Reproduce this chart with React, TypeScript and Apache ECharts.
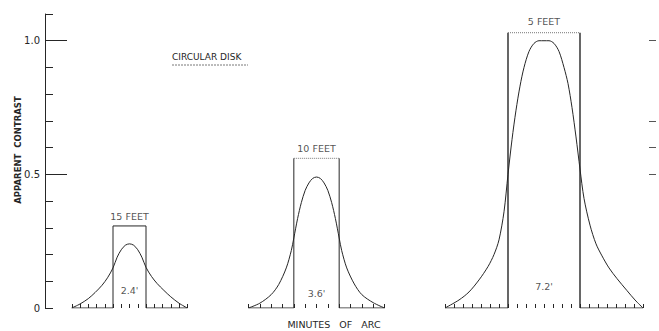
import { useEffect, useRef } from "react";
import * as echarts from "echarts";

// ---------- data ----------
const yTickValues = [0, 0.1, 0.2, 0.3, 0.4, 0.5, 0.6, 0.7, 0.8, 0.9, 1.0, 1.1];
const yLabelValues = [0, 0.5, 1.0];
const yLongTickValues = [0.5, 1.0];
const rightTickValues = [0.5, 0.6, 0.7, 1.0];

const distanceLabels = ["15 FEET", "10 FEET", "5 FEET"];
const diskWidths = [2.4, 3.6, 7.2]; // minutes of arc
const diskWidthLabels = ["2.4'", "3.6'", "7.2'"];
const diskContrast = [0.307, 0.56, 1.03];
const tickIntervals = [0.6, 0.9, 0.9];
const axisHalfRanges = [4.2, 5.4, 9.9];

const curve15ftX = [-4.2, -3.6, -3.0, -2.5, -2.0, -1.6, -1.2, -0.9, -0.6, -0.3, 0, 0.3, 0.6, 0.9, 1.2, 1.6, 2.0, 2.5, 3.0, 3.6, 4.2];
const curve15ftY = [0.0, 0.015, 0.035, 0.058, 0.085, 0.113, 0.15, 0.19, 0.218, 0.235, 0.24, 0.235, 0.218, 0.19, 0.152, 0.118, 0.092, 0.066, 0.042, 0.018, 0.0];

const curve10ftX = [-5.4, -4.5, -3.6, -3.0, -2.4, -2.0, -1.8, -1.5, -1.2, -0.9, -0.6, -0.3, 0, 0.3, 0.6, 0.9, 1.2, 1.5, 1.8, 2.0, 2.4, 3.0, 3.6, 4.5, 5.4];
const curve10ftY = [0.0, 0.018, 0.05, 0.088, 0.15, 0.215, 0.262, 0.335, 0.395, 0.44, 0.468, 0.485, 0.49, 0.485, 0.468, 0.44, 0.395, 0.335, 0.262, 0.215, 0.15, 0.09, 0.05, 0.02, 0.0];

const curve5ftX = [-9.9, -8.5, -7.5, -6.5, -5.6, -5.0, -4.5, -4.0, -3.6, -3.2, -2.8, -2.4, -2.0, -1.5, -1.0, -0.5, 0, 0.5, 1.0, 1.5, 2.0, 2.4, 2.8, 3.2, 3.6, 4.0, 4.6, 5.2, 5.8, 6.5, 7.3, 8.3, 9.1, 9.9];
const curve5ftY = [0.0, 0.03, 0.06, 0.105, 0.155, 0.2, 0.255, 0.36, 0.5, 0.63, 0.74, 0.83, 0.9, 0.96, 0.99, 1.0, 1.0, 1.0, 0.99, 0.96, 0.9, 0.84, 0.75, 0.64, 0.52, 0.41, 0.31, 0.24, 0.195, 0.15, 0.11, 0.065, 0.03, 0.0];

const curvesX = [curve15ftX, curve10ftX, curve5ftX];
const curvesY = [curve15ftY, curve10ftY, curve5ftY];

// ---------- layout ----------
const GRID_TOP = 14;
const GRID_BOTTOM = 23;
const clusterLefts = [71.75, 248.5, 445];
const clusterWidths = [115.5, 136, 198];
const widthLabelYs = [0.067, 0.056, 0.08];
const INK = "#262626";
const FONT = "DejaVu Sans";

export default function App() {
  const ref = useRef<HTMLDivElement>(null);

  useEffect(() => {
    if (!ref.current) return;
    const chart = echarts.init(ref.current, null, { renderer: "svg" });

    const grids: any[] = [
      { left: 45, right: 3, top: GRID_TOP, bottom: GRID_BOTTOM },
      ...clusterLefts.map((l, i) => ({ left: l, width: clusterWidths[i], top: GRID_TOP, bottom: GRID_BOTTOM })),
    ];

    const xAxes: any[] = [
      { type: "value", gridIndex: 0, min: 0, max: 1, show: false },
      ...axisHalfRanges.map((r, i) => ({
        type: "value",
        gridIndex: i + 1,
        min: -r,
        max: r,
        interval: tickIntervals[i],
        axisLine: { show: false },
        axisTick: { show: true, inside: true, length: 4, lineStyle: { color: INK, width: 1 } },
        axisLabel: { show: false },
        splitLine: { show: false },
      })),
    ];

    const yAxes: any[] = [
      {
        type: "value",
        gridIndex: 0,
        position: "left",
        min: 0,
        max: 1.1,
        axisLine: { show: true, lineStyle: { color: INK, width: 1 } },
        axisTick: { show: true, inside: true, length: 8, customValues: yTickValues, lineStyle: { color: INK } },
        axisLabel: {
          show: true,
          customValues: yLabelValues,
          formatter: (v: number) => (v === 0 ? "0" : v.toFixed(1)),
          color: INK,
          fontFamily: FONT,
          fontSize: 10,
          margin: 5,
        },
        splitLine: { show: false },
      },
      {
        type: "value",
        gridIndex: 0,
        position: "left",
        min: 0,
        max: 1.1,
        axisLine: { show: false },
        axisTick: { show: true, inside: true, length: 22, customValues: yLongTickValues, lineStyle: { color: INK } },
        axisLabel: { show: false },
        splitLine: { show: false },
      },
      {
        type: "value",
        gridIndex: 0,
        position: "right",
        min: 0,
        max: 1.1,
        axisLine: { show: false },
        axisTick: { show: true, inside: true, length: 7, customValues: rightTickValues, lineStyle: { color: "#555" } },
        axisLabel: { show: false },
        splitLine: { show: false },
      },
      ...clusterLefts.map((_, i) => ({ type: "value", gridIndex: i + 1, min: 0, max: 1.1, show: false })),
    ];

    const series: any[] = [
      { type: "line", xAxisIndex: 0, yAxisIndex: 0, data: [], silent: true },
    ];

    diskWidths.forEach((w, i) => {
      const half = w / 2;
      const h = diskContrast[i];
      const R = axisHalfRanges[i];
      const ax = { xAxisIndex: i + 1, yAxisIndex: i + 3 };
      const seg = (data: number[][], style: any) => ({
        type: "line",
        ...ax,
        data,
        symbol: "none",
        silent: true,
        lineStyle: { color: INK, width: 1, ...style },
      });
      // curve
      series.push({
        type: "line",
        ...ax,
        data: curvesX[i].map((x, k) => [x, curvesY[i][k]]),
        smooth: 0.3,
        symbol: "none",
        silent: true,
        lineStyle: { color: INK, width: 1 },
      });
      // baseline outside the disk
      series.push(seg([[-R, 0], [-half, 0]], {}));
      series.push(seg([[half, 0], [R, 0]], {}));
      // disk rectangle
      series.push(seg([[-half, 0], [-half, h]], { width: i === 2 ? 1.4 : 1 }));
      series.push(seg([[half, 0], [half, h]], { width: i === 2 ? 1.4 : 1 }));
      series.push(seg([[-half, h], [half, h]], i === 0 ? {} : { type: "dotted", color: "#777" }));
      // labels
      series.push({
        type: "scatter",
        ...ax,
        symbolSize: 1,
        silent: true,
        itemStyle: { color: "rgba(0,0,0,0)" },
        data: [
          {
            value: [0, h],
            label: {
              show: true,
              position: "top",
              distance: i === 2 ? 6 : 4,
              formatter: distanceLabels[i],
              color: INK,
              fontFamily: FONT,
              fontSize: 9.5,
            },
          },
          {
            value: [0, widthLabelYs[i]],
            label: {
              show: true,
              position: "inside",
              formatter: diskWidthLabels[i],
              color: INK,
              fontFamily: FONT,
              fontSize: 9.5,
            },
          },
        ],
      });
    });

    chart.setOption({
      animation: false,
      backgroundColor: "#ffffff",
      grid: grids,
      xAxis: xAxes,
      yAxis: yAxes,
      series,
      graphic: [
        {
          type: "text",
          left: 172,
          top: 52,
          silent: true,
          style: { text: "CIRCULAR DISK", fill: INK, font: `9px "${FONT}"` },
        },
        {
          type: "line",
          silent: true,
          shape: { x1: 172, y1: 65, x2: 248, y2: 65 },
          style: { stroke: "#555", lineWidth: 0.8, lineDash: [2, 1] },
        },
        {
          type: "text",
          x: 18,
          y: 150,
          rotation: Math.PI / 2,
          silent: true,
          style: {
            text: "APPARENT  CONTRAST",
            fill: INK,
            font: `bold 8.5px "${FONT}"`,
            align: "center",
            verticalAlign: "middle",
          },
        },
        {
          type: "text",
          x: 334,
          y: 324,
          silent: true,
          style: {
            text: "MINUTES   OF   ARC",
            fill: INK,
            font: `9.5px "${FONT}"`,
            align: "center",
            verticalAlign: "middle",
          },
        },
      ],
    });

    return () => chart.dispose();
  }, []);

  return (
    <div
      ref={ref}
      style={{ position: "absolute", left: 0, top: 0, width: 659, height: 331, background: "#fff" }}
    />
  );
}
